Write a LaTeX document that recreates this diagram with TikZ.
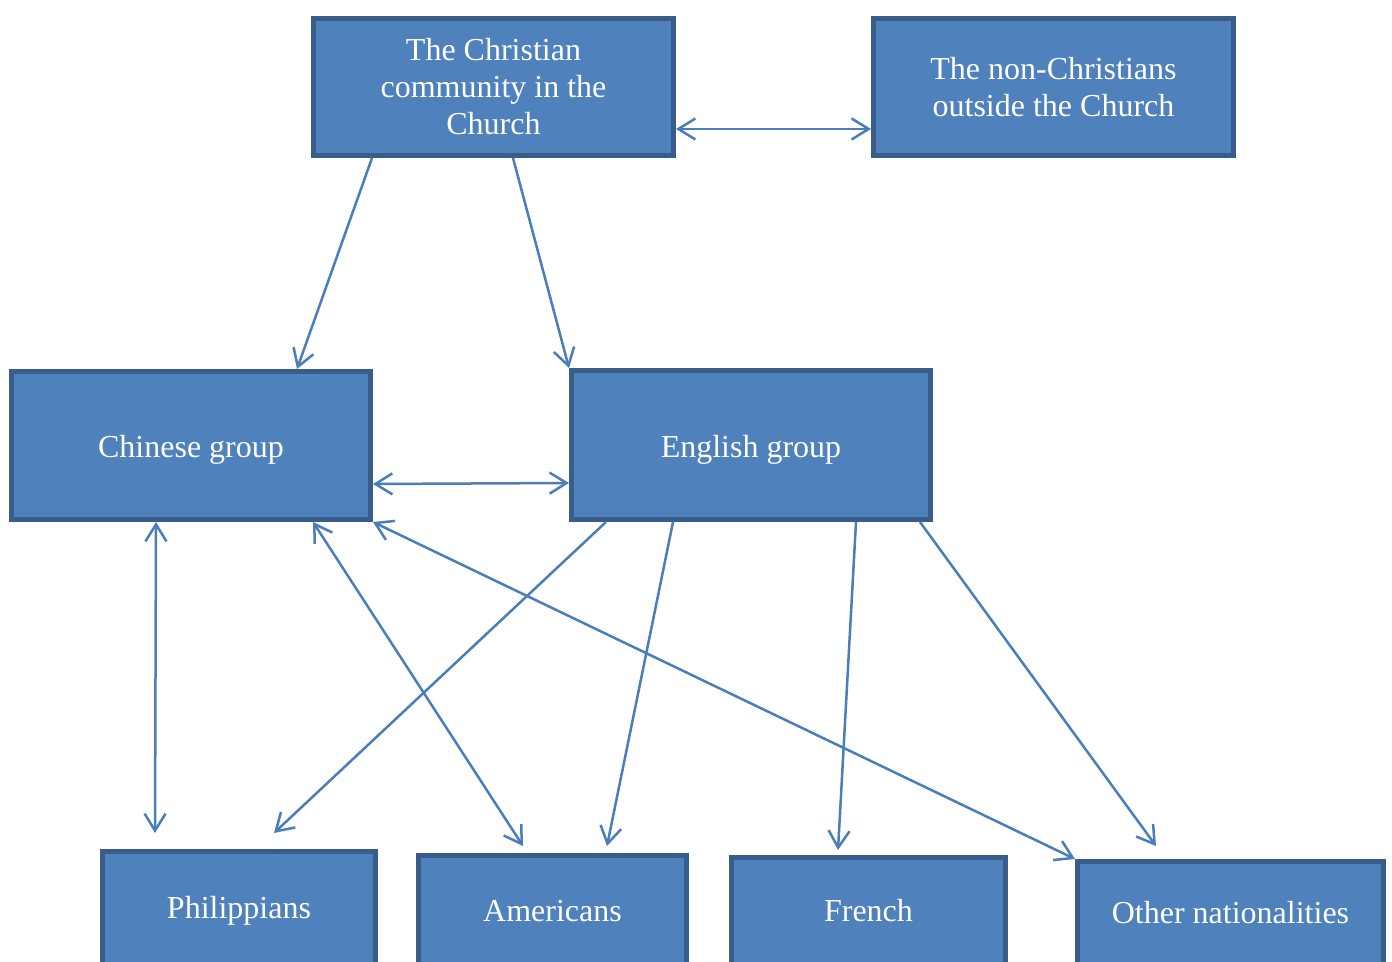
\documentclass[tikz,border=0pt]{standalone}
\usepackage{fontspec}
\setmainfont{Liberation Serif}
\usetikzlibrary{arrows.meta}
\definecolor{boxfill}{HTML}{4F81BD}
\definecolor{boxline}{HTML}{385D8A}
\definecolor{arr}{HTML}{4A7EBB}
\newcommand{\lowtxt}[2]{\raisebox{-#1}[0pt][0pt]{#2}}
\tikzset{
  box/.style={draw=boxline, fill=boxfill, line width=2.5pt, text=white, align=center,
    inner sep=0pt, font=\fontsize{16pt}{18.5pt}\selectfont},
  link/.style={draw=arr, line width=1.25pt, -{Straight Barb[length=8.5pt,width=10.5pt]}},
  dlink/.style={draw=arr, line width=1.25pt, {Straight Barb[length=8.5pt,width=10.5pt]}-{Straight Barb[length=8.5pt,width=10.5pt]}}
}
\begin{document}
\begin{tikzpicture}[x=0.5pt,y=-0.5pt]
\useasboundingbox (0,0) rectangle (1392,962);
\clip (0,0) rectangle (1392,962);
\node[box, minimum width=180pt, minimum height=68.5pt] (chr) at (493.5,87) {The Christian\\community in the\\Church};
\node[box, minimum width=180pt, minimum height=68.5pt] (non) at (1053.5,87) {The non-Christians\\outside the Church};
\node[box, minimum width=179.5pt, minimum height=74pt] (chi) at (191,445.5) {\lowtxt{6pt}{Chinese group}};
\node[box, minimum width=179.5pt, minimum height=74.5pt] (eng) at (751,445) {\lowtxt{6pt}{English group}};
\node[box, minimum width=136.5pt, minimum height=56.5pt] (phi) at (239,908) {\lowtxt{5pt}{Philippians}};
\node[box, minimum width=134pt, minimum height=54.5pt] (ame) at (552.5,910) {\lowtxt{5.5pt}{Americans}};
\node[box, minimum width=137pt, minimum height=53.5pt] (fre) at (868.5,911) {\lowtxt{5pt}{French}};
\node[box, minimum width=153pt, minimum height=51.5pt] (oth) at (1230.5,913) {\lowtxt{5pt}{Other nationalities}};

\draw[link] ([xshift=30.5pt]chr.south west) -- ([xshift=144pt]chi.north west);
\draw[link] ([xshift=101pt]chr.south west) -- (eng.north west);
\draw[dlink] ([yshift=-56.5pt]chr.north east) -- ([yshift=-56.5pt]non.north west);
\draw[dlink] ([yshift=-57.5pt]chi.north east) -- ([yshift=-57.5pt]eng.north west);
\draw[dlink] ([xshift=73.5pt]chi.south west) -- ([xshift=27.5pt,yshift=8pt]phi.north west);
\draw[dlink] ([xshift=152pt]chi.south west) -- ([xshift=53.5pt,yshift=3.5pt]ame.north west);
\draw[dlink] (chi.south east) -- (oth.north west);
\draw[link] ([xshift=18.5pt]eng.south west) -- ([xshift=87pt,yshift=8pt]phi.north west);
\draw[link] ([xshift=52pt]eng.south west) -- ([xshift=95.5pt,yshift=3.5pt]ame.north west);
\draw[link] ([xshift=143.5pt]eng.south west) -- ([xshift=54.5pt,yshift=2.5pt]fre.north west);
\draw[link] ([xshift=175.5pt]eng.south west) -- ([xshift=40.5pt,yshift=6.5pt]oth.north west);
\end{tikzpicture}
\end{document}
